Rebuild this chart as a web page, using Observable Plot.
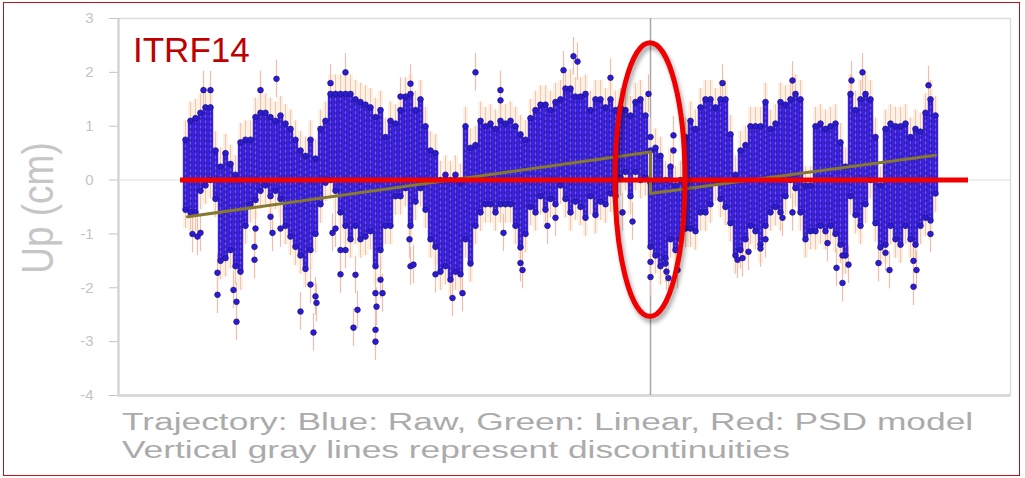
<!DOCTYPE html>
<html><head><meta charset="utf-8">
<script src="https://cdn.jsdelivr.net/npm/d3@7"></script>
<script src="https://cdn.jsdelivr.net/npm/@observablehq/plot@0.6"></script>
<style>
html,body{margin:0;padding:0;background:#fff;}
#wrap{position:relative;width:1025px;height:478px;overflow:hidden;background:#fff;}
#wrap svg{position:absolute;left:0;top:0;}
#border{position:absolute;left:3px;top:2px;width:1017px;height:474px;box-sizing:border-box;border:1.5px solid #c0141c;pointer-events:none;z-index:2;}
</style></head><body><div id="wrap"><div id="border"></div></div>
<script>
// Upper / lower edge of the dense cloud of daily Up positions (cm), one value per sample bin
const coreHi = [
 0.75,1.1,1.15,1.25,1.35,1.35,0.55,0.25,0.5,0.3,
 0.1,0.7,0.75,0.75,1.17,1.25,1.25,1.17,1.1,1.2,
 1.05,0.95,0.75,0.55,0.45,0.75,0.4,0.95,1.1,1.6,
 1.6,1.6,1.6,1.6,1.5,1.45,1.4,1.35,1.17,1.3,
 0.8,1.1,1.05,1.3,1.55,1.6,1.3,1.5,1.0,0.55,
 0.5,0.0,0.1,0.0,0.1,-0.05,1.0,0.6,0.65,1.1,
 1.0,1.05,0.95,1.1,1.05,1.1,1.0,0.85,0.75,1.15,
 1.3,1.4,1.4,1.3,1.45,1.5,1.7,1.7,1.55,1.55,
 1.6,1.3,1.5,1.5,1.35,1.5,1.3,1.35,1.3,1.2,
 1.45,1.5,1.2,-0.05,0.6,0.45,0.0,0.25,-0.1,0.0,
 0.8,1.1,0.95,1.35,1.5,1.5,1.35,1.5,1.5,0.85,
 0.1,0.55,0.65,1.0,1.0,1.0,1.45,0.95,1.05,1.45,
 1.4,1.5,1.6,1.5,-0.1,-0.1,1.0,1.05,0.95,1.0,
 1.05,0.7,0.25,1.6,1.3,1.5,1.6,1.5,0.8,-0.1,
 0.95,1.05,1.0,1.0,1.05,0.8,0.95,0.9,1.25,1.5,
 1.2];
const coreLo = [
 -0.55,-0.6,-0.6,-0.2,-0.1,0.0,-0.35,-1.5,-1.45,-1.3,
 -1.6,-1.7,-0.85,-0.45,-0.37,-0.2,-0.1,-0.3,-0.2,-0.35,
 -0.85,-1.05,-1.24,-1.4,-1.65,-1.3,-1.0,-0.45,-0.05,0.0,
 -0.2,-0.6,-0.85,-1.1,-0.85,-1.1,-1.05,-0.95,-1.6,-1.3,
 -0.85,-0.85,-0.3,-0.3,-0.15,-0.85,-0.4,-0.15,-0.55,-1.1,
 -1.24,-1.7,-1.6,-1.85,-1.7,-1.75,-1.1,-1.55,-0.85,-0.6,
 -0.45,-0.45,-0.6,-0.45,-0.45,-0.45,-0.85,-1.25,-1.0,-0.5,
 -0.6,-0.3,-0.55,-0.35,-0.45,-0.1,-0.35,-0.6,-0.4,-0.5,
 -0.7,-0.3,-0.65,-0.4,-0.45,-0.25,-0.3,0.05,0.15,-0.3,
 0.15,0.0,0.05,-1.24,-1.4,-1.6,-1.45,-1.1,-1.3,-1.1,
 -0.9,-0.9,-0.95,-0.6,-0.6,-0.45,-0.05,-0.35,-0.5,-0.8,
 -1.4,-1.3,-1.1,-0.85,-0.95,-1.2,-0.85,-0.6,-0.5,-0.6,
 -0.3,0.0,-0.15,-0.6,-1.1,-0.95,-0.95,-0.85,-0.95,-0.85,
 -1.0,-1.2,-1.4,-0.3,-0.65,-0.85,-0.45,0.0,-0.8,-1.25,
 -1.2,-0.85,-1.1,-1.2,-0.85,-1.1,-1.2,-0.85,-0.7,-0.75,
 -0.25];
// Isolated raw observations (sample bin, Up cm)
const outEpoch = [3.6,5,1.4,2.4,3,6.4,6.4,9.6,10.2,10.2,13.8,13.8,14,15,18.2,17,17.4,19,23,25,26,26.2,25.6,29,29.4,30,31,31,32,32,34,34.4,33.6,38,38.2,38,38,39,39.4,43,44.8,45,45,45.6,50,53.4,55.4,58,63,63,63.6,67,67.4,72.4,74,75.6,77.6,78.4,85,87.4,89.4,92.6,93,93,93,93,96,96.2,96.6,97.6,97.6,98.4,107.4,110.4,111.4,112.6,115,116,119.4,121.4,121.4,128.4,130.2,131.4,131.4,132.6,133.2,135.4,138.6,140,140.8,145.6,146.2,145.6,148.6,149];
const outUp = [1.67,1.67,-1.0,-1.05,-0.98,-1.72,-2.13,-2.04,-2.26,-2.63,-1.24,-1.48,-0.9,1.67,1.88,-0.68,-0.98,-0.9,-2.44,-1.94,-2.16,-2.28,-2.83,1.8,-0.98,-0.9,-1.3,-1.75,2.0,-1.3,-1.76,-2.41,-2.74,-2.1,-2.35,-2.78,-3.0,-1.85,-2.1,1.55,-1.1,1.79,-1.6,-1.57,-1.75,-2.19,-2.1,2.0,1.67,1.48,-0.98,-1.54,-1.67,-0.85,-0.7,2.04,2.3,2.2,1.9,-0.6,-0.77,1.6,0.8,0.55,-1.52,-1.8,-1.55,-1.7,-1.82,0.83,0.55,-1.67,1.8,-1.48,-1.45,-1.33,-1.27,-1.1,-0.7,1.85,-0.6,-1.17,-1.63,-1.4,-1.91,-1.57,1.85,2.0,-1.54,-1.35,-1.67,-1.5,-1.67,-1.98,1.76,-1.0];
const sigma = 0.35; // typical error bar half-length (cm)
// Linear trajectory (green) with offset at the discontinuity
const trendEpoch = [0.4, 93, 93, 150];
const trendUp = [-0.68, 0.52, -0.25, 0.46];
const discontinuityEpoch = [93];
// PSD model (red) and highlight annotation
const psdEpoch = [-1, 156.6];
const psdUp = [0, 0];
const ellipseCenter = [93, 0];
const ellipseRadii = [7, 2.54];
const yTicks = [-4, -3, -2, -1, 0, 1, 2, 3];
const xDomain = [-13.4, 165];
const yDomain = [-4, 3];
const captionLines = ["Trajectory: Blue: Raw, Green: Linear, Red: PSD model", "Vertical gray lines represent discontinuities"];
const yLabel = "Up (cm)";
const frameTitle = "ITRF14";

const core = coreHi.map((hi, i) => ({epoch: i, hi, lo: coreLo[i]}));
const outliers = outEpoch.map((e, i) => ({epoch: e, up: outUp[i]}));
const trend = trendEpoch.map((e, i) => ({epoch: e, up: trendUp[i]}));
const psd = [{x1: psdEpoch[0], x2: psdEpoch[1], up: psdUp[0]}];

const dotStyle = {r: 2.8, fill: "#2d1ad6", stroke: "#1d1680", strokeWidth: 0.8};
const FONT = "'Liberation Sans', Arial, Helvetica, sans-serif";

const plot = Plot.plot({
  width: 1025, height: 478,
  marginLeft: 118, marginRight: 15, marginTop: 18, marginBottom: 83,
  style: {fontFamily: FONT, fontSize: "15px", color: "#c4c4c4", background: "#fff"},
  x: {domain: xDomain, axis: null},
  y: {domain: yDomain, ticks: yTicks, tickSize: 9, tickPadding: 16, tickFormat: d => String(d), label: null},
  marks: [
    Plot.frame({stroke: "#dddddd", strokeWidth: 1.5}),
    Plot.ruleX([xDomain[0]], {stroke: "#cfcfcf", strokeWidth: 2}),
    Plot.ruleY([yDomain[0]], {stroke: "#d9d9d9", strokeWidth: 3}),
    Plot.ruleY([0], {stroke: "#dedede", strokeWidth: 1}),
    Plot.ruleX(discontinuityEpoch, {stroke: "#a9a9a9", strokeWidth: 1.5}),
    Plot.ruleX(core, {x: "epoch", y1: d => d.lo - sigma, y2: d => d.hi + sigma, stroke: "#fdf1e4", strokeWidth: 5}),
    Plot.ruleX(core, {x: "epoch", y1: "hi", y2: d => d.hi + sigma, stroke: "#f4c4b2", strokeWidth: 1}),
    Plot.ruleX(core, {x: "epoch", y1: d => d.lo - sigma, y2: "lo", stroke: "#f4c4b2", strokeWidth: 1}),
    Plot.ruleX(outliers, {x: "epoch", y1: d => d.up - sigma, y2: d => d.up + sigma, stroke: "#f2bcac", strokeWidth: 1.2}),
    Plot.ruleX(core, {x: "epoch", y1: "lo", y2: "hi", stroke: "#3a22e2", strokeWidth: 5.4}),
    Plot.ruleX(core, {x: "epoch", y1: "lo", y2: "hi", stroke: "#e99ac0", strokeWidth: 0.8, strokeOpacity: 0.5}),
    Plot.ruleX(core, {x: "epoch", y1: "lo", y2: "hi", stroke: "#1f1690", strokeWidth: 3.2, strokeLinecap: "round", strokeDasharray: "0 5.5", strokeOpacity: 0.55}),
    Plot.dot(core, {x: "epoch", y: "hi", ...dotStyle}),
    Plot.dot(core, {x: "epoch", y: "lo", ...dotStyle}),
    Plot.dot(outliers, {x: "epoch", y: "up", ...dotStyle}),
    Plot.line(trend, {x: "epoch", y: "up", stroke: "#86782c", strokeWidth: 3}),
    Plot.ruleY(psd, {y: "up", x1: "x1", x2: "x2", stroke: "#f00000", strokeWidth: 5, ariaLabel: "psd-line"})
  ]
});
document.getElementById("wrap").appendChild(plot);

const svg = d3.select(plot);
const sx = plot.scale("x"), sy = plot.scale("y");
const shadow = "drop-shadow(2px 4px 2px rgba(0,0,0,0.35))";
svg.selectAll('g[aria-label="psd-line"]').style("filter", shadow);
svg.append("ellipse")
  .attr("cx", sx.apply(ellipseCenter[0]))
  .attr("cy", sy.apply(ellipseCenter[1]))
  .attr("rx", sx.apply(ellipseCenter[0] + ellipseRadii[0]) - sx.apply(ellipseCenter[0]))
  .attr("ry", sy.apply(ellipseCenter[1]) - sy.apply(ellipseCenter[1] + ellipseRadii[1]))
  .attr("fill", "none").attr("stroke", "#f00000").attr("stroke-width", 5)
  .style("filter", shadow);
svg.append("text").attr("x", 133).attr("y", 62).attr("text-anchor", "start")
  .attr("font-family", FONT).attr("font-size", 35).attr("fill", "#c00000")
  .text(frameTitle);
svg.append("text").attr("transform", "translate(53,208) scale(1.22,1) rotate(-90)")
  .attr("text-anchor", "middle").attr("font-family", FONT).attr("font-size", 37).attr("fill", "#c6c6c6")
  .text(yLabel);
captionLines.forEach((t, i) => {
  svg.append("text").attr("transform", `translate(122,${430 + 28 * i}) scale(1.537,1)`)
    .attr("text-anchor", "start")
    .attr("font-family", FONT).attr("font-size", 23).attr("fill", "#ababab")
    .text(t);
});
</script></body></html>
